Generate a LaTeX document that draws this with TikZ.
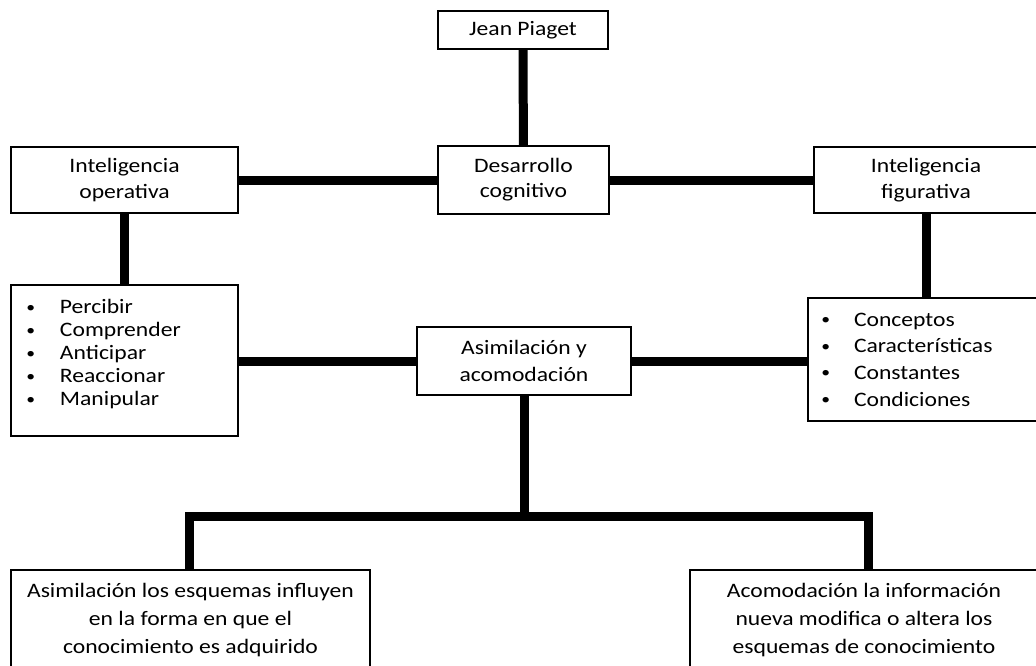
\documentclass[tikz,border=0pt]{standalone}
\usepackage{fontspec}
\setmainfont{Carlito}[FakeStretch=1.15]
\newcommand{\bul}[1]{\makebox[#1][l]{\hspace{1pt}\raisebox{1.2pt}{\scalebox{0.75}{•}}}}
\tikzset{
  box/.style={draw=black, line width=0.8pt, fill=white, align=center, inner sep=0pt,
    font=\fontsize{15.4}{20}\selectfont},
  conn/.style={line width=6.75pt, line cap=butt, line join=miter}
}
\begin{document}
\begin{tikzpicture}[x=0.75pt,y=-0.75pt]
\useasboundingbox (0,0) rectangle (1036,665);
\fill[white] (0,0) rectangle (1036,665);

\node[box, minimum width=127.5pt, minimum height=28.5pt] (jp) at (523,30) {Jean Piaget};
\node[box, minimum width=128.25pt, minimum height=51pt, font=\fontsize{15.4}{18.75}\selectfont] (des) at (523.5,180) {Desarrollo\\cognitivo};
\node[box, minimum width=170.25pt, minimum height=49.5pt] (op) at (124.5,180) {Inteligencia\\operativa};
\node[box, minimum width=168pt, minimum height=49.5pt] (fig) at (926,180) {Inteligencia\\figurativa};

\node[box, align=left, text width=149.25pt, inner xsep=10.5pt, minimum height=113.25pt,
  font=\fontsize{15.4}{17.25}\selectfont] (oplist) at (124.5,360.5)
  {\raisebox{4pt}[\height][\depth]{\begin{tabular}{@{}l@{}}
   \bul{26.25pt}Percibir\\
   \bul{26.25pt}Comprender\\
   \bul{26.25pt}Anticipar\\
   \bul{26.25pt}Reaccionar\\
   \bul{26.25pt}Manipular
  \end{tabular}}};

\node[box, align=left, text width=154.5pt, inner xsep=9pt, minimum height=92.25pt,
  font=\fontsize{15.4}{20}\selectfont] (figlist) at (923,359.5)
  {\bul{25.5pt}Conceptos\\
   \bul{25.5pt}Características\\
   \bul{25.5pt}Constantes\\
   \bul{25.5pt}Condiciones};

\node[box, minimum width=160.5pt, minimum height=51pt] (asim) at (524,361) {Asimilación y\\acomodación};

\node[box, minimum width=269.25pt, minimum height=75pt, font=\fontsize{15.4}{21}\selectfont] (bl) at (190.5,620)
  {Asimilación los esquemas influyen\\en la forma en que el\\conocimiento es adquirido};
\node[box, minimum width=261pt, minimum height=75pt, font=\fontsize{15.4}{21}\selectfont] (br) at (864,620)
  {Acomodación la información\\nueva modifica o altera los\\esquemas de conocimiento};

\coordinate (busL) at (189,516);
\coordinate (busR) at (868,516);

\draw[conn] (jp) -- (des);
\draw[conn] (op) -- (des);
\draw[conn] (des) -- (fig);
\draw[conn] (op) -- (oplist);
\draw[conn] (fig.south) -- (fig.south |- figlist.north);
\draw[conn] (oplist.east |- asim.west) -- (asim.west);
\draw[conn] (asim.east) -- (asim.east -| figlist.west);
\draw[conn] (asim.south) -- (asim.south |- busL);
\draw[conn] (bl.north -| busL) -- (busL) -- (busR) -- (br.north -| busR);
\end{tikzpicture}
\end{document}
